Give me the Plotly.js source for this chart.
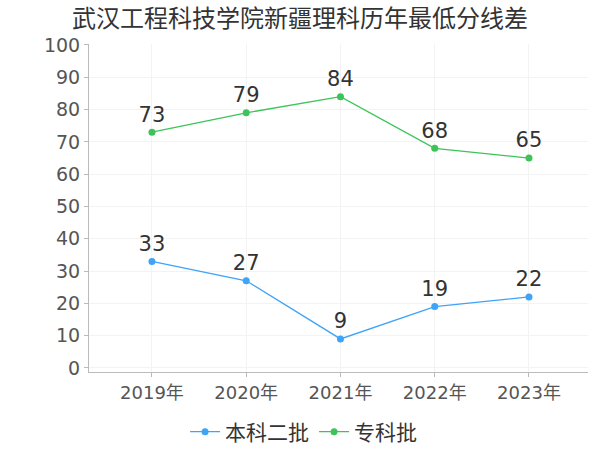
<!DOCTYPE html>
<html><head><meta charset="utf-8">
<script src="https://cdn.plot.ly/plotly-3.0.1.min.js"></script>
<style>html,body{margin:0;padding:0;background:#fff}#chart{width:600px;height:450px}</style>
</head><body><div id="chart"></div>
<script>
const years = ["2019年","2020年","2021年","2022年","2023年"];
const benke2 = [33, 27, 9, 19, 22];
const zhuanke = [73, 79, 84, 68, 65];
const seriesNames = ["本科二批", "专科批"];
const FONT = '"Noto Sans CJK SC", "Noto Sans", sans-serif';
const NUMFONT = '"DejaVu Sans", "Noto Sans CJK SC", sans-serif';
function tr(name, vals, color){
  return {type:'scatter', mode:'lines+markers+text', name:name, x:years, y:vals,
    text: vals.map(String), textposition:'top center',
    textfont:{size:21, color:'#333', family:NUMFONT},
    line:{color:color, width:1.3}, marker:{color:color, size:7}, cliponaxis:false};
}
const data = [tr(seriesNames[0], benke2, '#3fa3f7'), tr(seriesNames[1], zhuanke, '#3cc45a')];
const layout = {
  width:600, height:450, paper_bgcolor:'#fff', plot_bgcolor:'#fff',
  margin:{l:89, r:12, t:44, b:78, autoexpand:false},
  font:{family:FONT, color:'#555'},
  title:{text:'武汉工程科技学院新疆理科历年最低分线差', x:0.5, xanchor:'center', y:0.958, yanchor:'middle', font:{size:24, color:'#333', family:FONT}},
  xaxis:{type:'category', range:[-0.668, 4.626], showgrid:true, gridcolor:'#f3f3f3', showline:true, linecolor:'#bbb', linewidth:1,
    ticks:'outside', ticklen:4, tickcolor:'#bbb', tickfont:{size:18, color:'#555', family:NUMFONT}, zeroline:false, automargin:false},
  yaxis:{range:[-1.24, 100.3], tickvals:[0,10,20,30,40,50,60,70,80,90,100], showgrid:true, gridcolor:'#f3f3f3', showline:true, linecolor:'#bbb',
    ticks:'outside', ticklen:4, tickcolor:'#bbb', tickfont:{size:19, color:'#555', family:NUMFONT}, zeroline:false, automargin:false},
  showlegend:true,
  legend:{orientation:'h', x:0.43, xanchor:'center', y:-0.183, yanchor:'middle', font:{size:21, color:'#333', family:FONT}, itemwidth:30, tracegroupgap:0}
};
Plotly.newPlot('chart', data, layout, {displayModeBar:false, staticPlot:true});
</script></body></html>
